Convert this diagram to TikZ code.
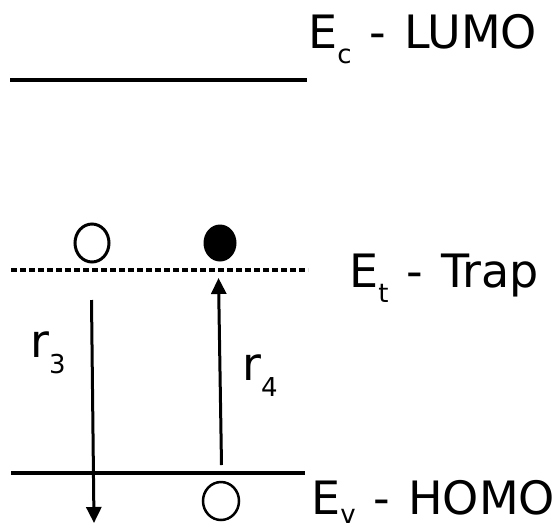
\documentclass[tikz,border=0pt]{standalone}
\usepackage{fontspec}
\setmainfont{DejaVu Sans}
\usetikzlibrary{arrows.meta,shapes.geometric}
\newcommand{\lowsub}[2][15pt]{\raisebox{-#1}{\fontsize{26}{30}\selectfont #2}}
\begin{document}
\begin{tikzpicture}[x=1pt, y=-1pt, >={Triangle[width=15pt,length=16pt]},
	level/.style={line width=3.5pt},
	lbl/.style={anchor=base west, inner sep=0pt, font=\fontsize{46}{54}\selectfont, execute at begin node={\spaceskip=18pt\relax}},
	hole/.style={draw, ellipse, line width=3pt, minimum width=34pt, minimum height=38pt, inner sep=0pt},
	elec/.style={fill, ellipse, minimum width=33pt, minimum height=37pt, inner sep=0pt}]
	\useasboundingbox (0,0) rectangle (557,531);
	\coordinate (lumoL) at (10,80); \coordinate (lumoR) at (307,80);
	\coordinate (trapL) at (11,270); \coordinate (trapR) at (308,270);
	\coordinate (homoL) at (11,473); \coordinate (homoR) at (305,473);
	\draw[level] (lumoL) -- (lumoR);% LUMO
	\draw[level, dash pattern=on 6pt off 3pt] (trapL) -- (trapR);% Trap
	\draw[level] (homoL) -- (homoR);% HOMO
	\node[lbl] (lumo) at (308,48) {E\lowsub{c} - LUMO};
	\node[lbl] (trap) at (349,287) {E\lowsub{t} - Trap};
	\node[lbl] (homo) at (311,514) {E\lowsub[9pt]{v} - HOMO};
	\node[hole] (h1) at (92,243) {};
	\node[elec] (e1) at (220,243) {};
	\node[hole, minimum width=36pt, line width=2.5pt] (h2) at (221,501) {};
	% transitions
	\coordinate (r3a) at (91.5,300); \coordinate (r3b) at (94,523);
	\coordinate (r4a) at (221.5,465); \coordinate (r4b) at (218.5,278);
	\draw[->, line width=3pt] (r3a) -- (r3b);
	\draw[->, line width=3pt] (r4a) -- (r4b);
	\node[lbl] (r3) at (30,357) {r\lowsub[16pt]{3}};
	\node[lbl] (r4) at (242,380) {r\lowsub[16pt]{4}};
\end{tikzpicture}
\end{document}
